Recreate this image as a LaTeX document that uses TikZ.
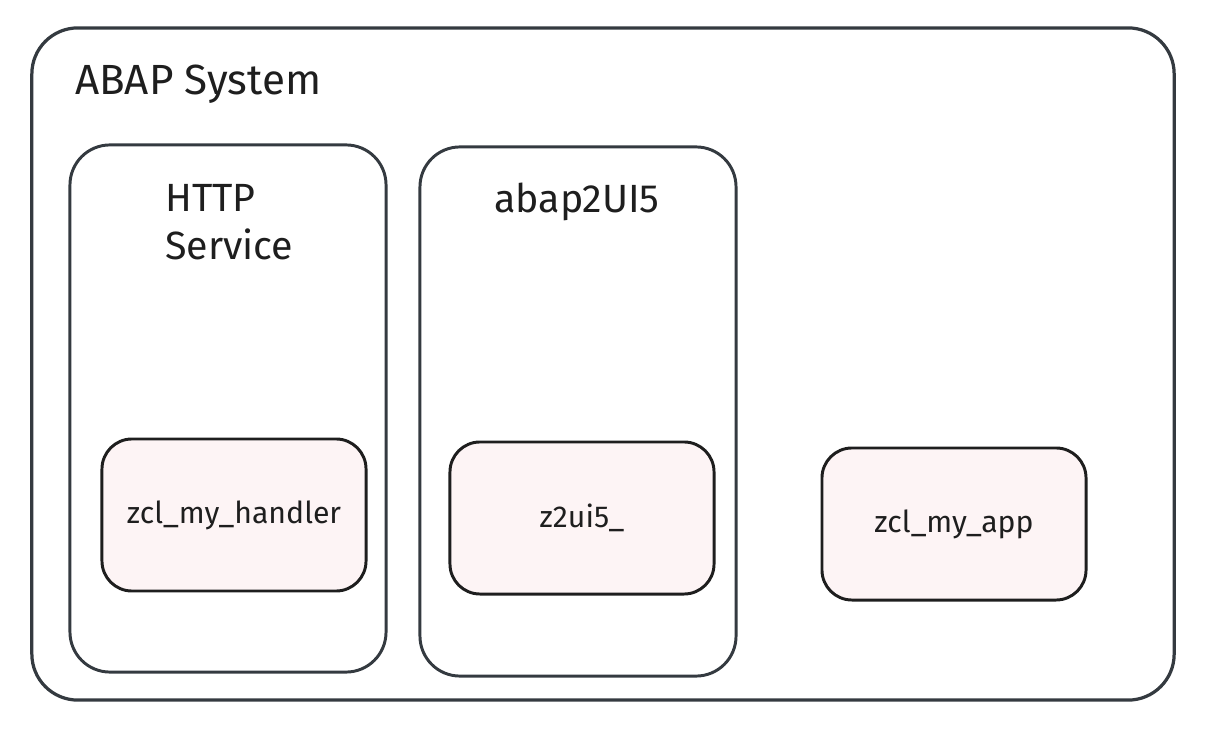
\documentclass[tikz,border=0pt]{standalone}
\usepackage{fontspec}
\setmainfont{Fira Sans}
\usepackage{tikz}
\usetikzlibrary{positioning}
\definecolor{strokegray}{HTML}{343A40}
\definecolor{inkblack}{HTML}{1E1E1E}
\definecolor{softpink}{HTML}{FDF4F5}
\tikzset{systembox/.style = {draw = strokegray, line width = 2.3pt, rounded corners = 1.15cm,
    minimum width = 28.55cm, minimum height = 16.8cm, inner sep = 0},
  servicebox/.style = {draw = strokegray, line width = 2.1pt, rounded corners = 1cm,
    minimum width = 7.9cm, inner sep = 0},
  classbox/.style = {draw = inkblack, fill = softpink, line width = 2.1pt, rounded corners = 0.75cm,
    minimum width = 6.6cm, minimum height = 3.8cm, inner sep = 0, text = inkblack,
    font = \fontsize{21.5}{26}\selectfont},
  headline/.style = {text = inkblack, inner sep = 0, font = \fontsize{28}{34}\selectfont}}

\begin{document}
\begin{tikzpicture}[x = 0.025cm, y = -0.025cm]
      \useasboundingbox (0, 0) rectangle (1208, 734);
      \node [systembox] (abap) at (603, 364) {};
      \node [headline, anchor = west, font = \fontsize{30}{36}\selectfont] (abaptitle) at (75, 84) {ABAP System};

      \node [servicebox, minimum height = 13.175cm] (http) at (228, 408.5) {};
      \node [headline, anchor = north west, align = left] (httptitle) at (165, 184) {HTTP\\Service};

      \node [servicebox, minimum height = 13.225cm] (frame) at (578, 411.5) {};
      \node [headline] (frametitle) at (577, 202) {abap2UI5};

      \node [classbox] (handler) at (234, 515) {zcl\_my\_handler};
      \node [classbox] (z2ui) at (582, 518) {z2ui5\_};
      \node [classbox] (app) at (954, 524) {zcl\_my\_app};
    \end{tikzpicture}
\end{document}
